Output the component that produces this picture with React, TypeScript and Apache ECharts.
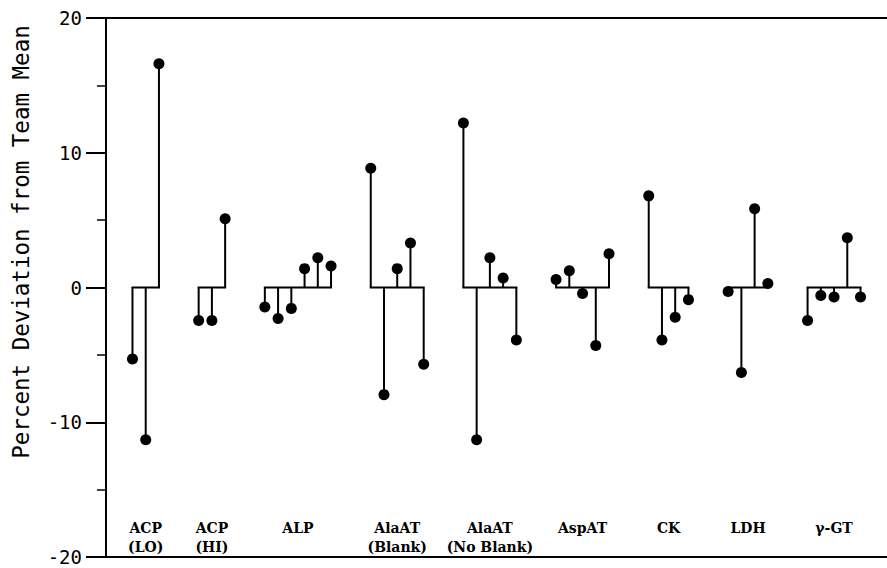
import React, { useEffect, useRef } from "react";
import * as echarts from "echarts";

const groupLabels = ["ACP\n(LO)", "ACP\n(HI)", "ALP", "AlaAT\n(Blank)", "AlaAT\n(No Blank)", "AspAT", "CK", "LDH", "γ-GT"];
const groupStart = [2, 7, 12, 20, 27, 34, 41, 47, 53];
const acpLo = [-5.3, -11.3, 16.6];
const acpHi = [-2.45, -2.45, 5.1];
const alp = [-1.45, -2.3, -1.55, 1.4, 2.2, 1.6];
const alaatBlank = [8.85, -7.95, 1.4, 3.3, -5.7];
const alaatNoBlank = [12.2, -11.3, 2.2, 0.7, -3.9];
const aspat = [0.6, 1.25, -0.45, -4.3, 2.5];
const ck = [6.8, -3.9, -2.2, -0.9];
const ldh = [-0.3, -6.3, 5.85, 0.3];
const ggt = [-2.45, -0.6, -0.7, 3.7, -0.7];
const groupValues = [acpLo, acpHi, alp, alaatBlank, alaatNoBlank, aspat, ck, ldh, ggt];
const yTicks = [-20, -10, 0, 10, 20];
const yName = "Percent Deviation from Team Mean";

export default function App() {
  const ref = useRef<HTMLDivElement>(null);
  useEffect(() => {
    if (!ref.current) return;
    const chart = echarts.init(ref.current, null, { renderer: "svg" });
    const stems: number[][] = [];
    const bases: any[] = [];
    groupValues.forEach((vals, g) => {
      vals.forEach((v, i) => stems.push([groupStart[g] + i, v]));
      bases.push([groupStart[g], groupStart[g] + vals.length - 1, g]);
    });
    const ink = "#000";
    chart.setOption({
      animation: false,
      backgroundColor: "#fff",
      grid: { left: 106, right: 0, top: 18, bottom: 11 },
      xAxis: [
        { type: "value", min: 0, max: 59, position: "bottom", axisLine: { show: true, onZero: false, lineStyle: { color: ink, width: 2 } }, axisTick: { show: false }, axisLabel: { show: false }, splitLine: { show: false } },
        { type: "value", min: 0, max: 59, position: "top", axisLine: { show: true, onZero: false, lineStyle: { color: ink, width: 2 } }, axisTick: { show: false }, axisLabel: { show: false }, splitLine: { show: false } },
      ],
      yAxis: {
        type: "value",
        min: yTicks[0],
        max: yTicks[yTicks.length - 1],
        interval: 10,
        axisLine: { show: true, lineStyle: { color: ink, width: 2 } },
        axisTick: { show: true, length: 20, lineStyle: { color: ink, width: 2 } },
        minorTick: { show: true, splitNumber: 2, length: 9, lineStyle: { color: ink, width: 1.5 } },
        axisLabel: { margin: 24, color: ink, fontFamily: "DejaVu Sans Mono", fontSize: 19 },
        splitLine: { show: false },
      },
      graphic: [
        {
          type: "text",
          x: 21,
          y: 242,
          rotation: Math.PI / 2,
          style: { text: yName, fill: ink, font: "22.5px 'DejaVu Sans Mono'", align: "center", verticalAlign: "middle" },
        },
      ],
      series: [
        {
          type: "custom",
          xAxisIndex: 0,
          data: bases,
          renderItem: (params: any, api: any) => {
            const a = api.coord([api.value(0), 0]);
            const b = api.coord([api.value(1), 0]);
            const c = api.coord([(api.value(0) + api.value(1)) / 2, -20]);
            const label = groupLabels[api.value(2)];
            return {
              type: "group",
              children: [
                { type: "line", shape: { x1: a[0] - 1, y1: a[1], x2: b[0] + 1, y2: b[1] }, style: { stroke: ink, lineWidth: 2 } },
                { type: "text", x: c[0], y: c[1] - 39, style: { text: label, fill: ink, font: "bold 14px 'DejaVu Serif'", align: "center", verticalAlign: "top", lineHeight: 19 } },
              ],
            };
          },
        },
        {
          type: "custom",
          xAxisIndex: 0,
          data: stems,
          renderItem: (params: any, api: any) => {
            const p0 = api.coord([api.value(0), 0]);
            const p1 = api.coord([api.value(0), api.value(1)]);
            return {
              type: "group",
              children: [
                { type: "line", shape: { x1: p0[0], y1: p0[1], x2: p1[0], y2: p1[1] }, style: { stroke: ink, lineWidth: 2 } },
                { type: "circle", shape: { cx: p1[0], cy: p1[1], r: 5.5 }, style: { fill: ink } },
              ],
            };
          },
        },
      ],
    });
    return () => chart.dispose();
  }, []);
  return <div ref={ref} style={{ position: "fixed", left: 0, top: 0, width: 887, height: 568 }} />;
}
